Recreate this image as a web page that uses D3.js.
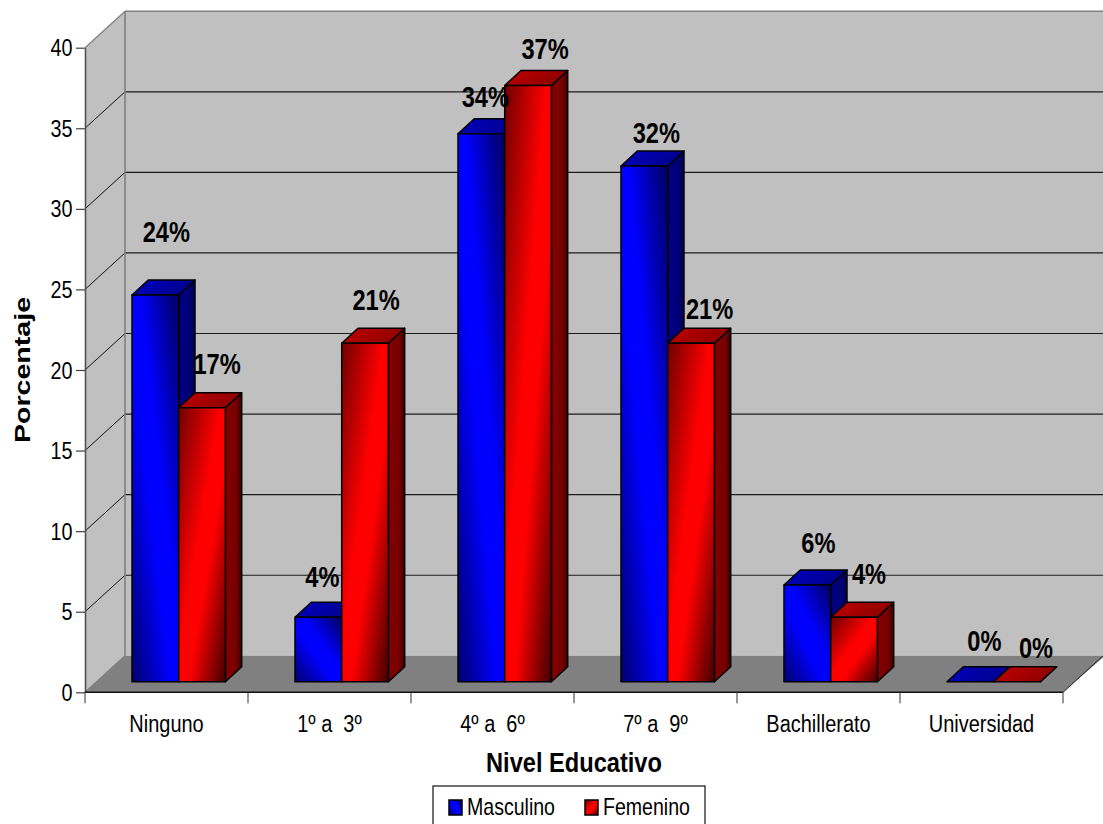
<!DOCTYPE html>
<html lang="es">
<head>
<meta charset="utf-8">
<title>Nivel educativo por sexo</title>
<script src="https://cdn.jsdelivr.net/npm/d3@7/dist/d3.min.js"></script>
<style>
  html, body { margin: 0; padding: 0; background: #fff; overflow: hidden; }
  svg { display: block; }
  text { font-family: "Liberation Sans", Arial, sans-serif; fill: #000; white-space: pre; }
</style>
</head>
<body>
<svg id="chart" width="1103" height="824"></svg>
<script>
// Chart data
const categories = ["Ninguno", "1º a  3º", "4º a  6º", "7º a  9º", "Bachillerato", "Universidad"];
const seriesNames = ["Masculino", "Femenino"];
const masculino = [24, 4, 34, 32, 6, 0];
const femenino = [17, 21, 37, 21, 4, 0];
const yTicks = [0, 5, 10, 15, 20, 25, 30, 35, 40];
const yTitle = "Porcentaje";
const xTitle = "Nivel Educativo";

// Hand-placed offsets of the value labels from the top centre of their bars
const labelShift = {
  Masculino: [[11, -53], [4, -30], [4, -26.6], [12, -23.5], [11, -32], [14, -31]],
  Femenino: [[15, -33.5], [11, -33], [17, -26], [18.5, -24], [15, -33], [19, -23.4]]
};

const W = 1103, H = 824;
const svg = d3.select("#chart");
const defs = svg.append("defs");

// Box geometry of the pseudo-3D plot
const wallDx = 40, wallDy = 36.5;   // wall depth
const barDx = 16.3, barDy = 15;     // bar depth
const frontDy = 10.6;               // bars stand this far behind the front edge
const barInset = 47, barW = 46.7;

const x = d3.scaleBand().domain(categories).range([85, 1063]).padding(0);
const xInner = d3.scaleBand().domain(seriesNames).range([barInset, barInset + 2 * barW]).padding(0);
const y = d3.scaleLinear().domain([0, 40]).range([692.3, 47.7]);

function gradient(id, x1, y1, x2, y2, stops) {
  const g = defs.append("linearGradient").attr("id", id)
    .attr("x1", x1).attr("y1", y1).attr("x2", x2).attr("y2", y2);
  stops.forEach(([o, c]) => g.append("stop").attr("offset", o).attr("stop-color", c));
}
gradient("face-Masculino", 0, 1, 1, 0, [[0, "#00006c"], [0.42, "#0000ff"], [0.58, "#0000ff"], [1, "#000060"]]);
gradient("face-Femenino", 0, 0, 1, 1, [[0, "#700000"], [0.45, "#ff0000"], [0.6, "#ff0000"], [1, "#400000"]]);
gradient("top-Masculino", 0, 0, 1, 0.3, [[0, "#0000c0"], [1, "#000090"]]);
gradient("top-Femenino", 0, 0, 1, 0.3, [[0, "#c00000"], [1, "#900000"]]);
gradient("side-Masculino", 0, 0, 1, 0, [[0, "#000084"], [0.65, "#000078"], [1, "#000048"]]);
gradient("side-Femenino", 0, 0, 1, 0, [[0, "#840000"], [0.65, "#780000"], [1, "#380000"]]);

const poly = pts => pts.map(p => p.join(",")).join(" ");

// Walls and floor
const x0 = x.range()[0], x1 = x.range()[1], yB = y(0), yT = y(40);
svg.append("polygon").attr("fill", "#c0c0c0")
  .attr("points", poly([[x0, yT], [x0 + wallDx, yT - wallDy], [W + 2, yT - wallDy], [W + 2, yB - wallDy], [x0 + wallDx, yB - wallDy], [x0, yB]]));
svg.append("polygon").attr("fill", "#808080")
  .attr("points", poly([[x0, yB], [x0 + wallDx, yB - wallDy], [W + 2, yB - wallDy], [x1, yB]]));

// Gridlines on the back wall and their continuation on the left wall
const grid = svg.append("g");
yTicks.filter(t => t > 0 && t < 40).forEach(t => {
  grid.append("line").attr("x1", x0 + wallDx).attr("x2", W)
    .attr("y1", y(t) - wallDy).attr("y2", y(t) - wallDy)
    .attr("stroke", "#1c1c1c").attr("stroke-width", 1.2);
  grid.append("line").attr("x1", x0).attr("x2", x0 + wallDx)
    .attr("y1", y(t)).attr("y2", y(t) - wallDy)
    .attr("stroke", "#111").attr("stroke-width", 1);
});

// Wall outlines
const edge = (a, b, c, d, col, w) => svg.append("line")
  .attr("x1", a).attr("y1", b).attr("x2", c).attr("y2", d)
  .attr("stroke", col).attr("stroke-width", w);
edge(x0 + wallDx, yT - wallDy, W, yT - wallDy, "#808080", 1.6);
edge(x0 + wallDx, yT - wallDy, x0 + wallDx, yB - wallDy, "#808080", 1.6);
edge(x0, yT, x0 + wallDx, yT - wallDy, "#808080", 1.2);
edge(x0, yB, x0 + wallDx, yB - wallDy, "#808080", 1.2);
edge(x1, yB, W, yB - wallDy, "#222", 1);

// Bars, drawn series by series inside each category so that red overlaps blue
const rows = categories.flatMap((c, i) => [
  { cat: c, i, name: seriesNames[0], value: masculino[i] },
  { cat: c, i, name: seriesNames[1], value: femenino[i] }
]);
const bars = svg.append("g").selectAll("g").data(rows).join("g");
const bl = d => x(d.cat) + xInner(d.name);
const topY = d => y(d.value) - frontDy;
const baseY = yB - frontDy;
const barStyle = sel => sel.attr("stroke", "#000").attr("stroke-width", 1.5).attr("stroke-linejoin", "round");

bars.append("polygon").call(barStyle)
  .attr("fill", d => `url(#side-${d.name})`)
  .attr("points", d => poly([[bl(d) + barW, topY(d)], [bl(d) + barW + barDx, topY(d) - barDy],
    [bl(d) + barW + barDx, baseY - barDy], [bl(d) + barW, baseY]]));
bars.append("polygon").call(barStyle)
  .attr("fill", d => `url(#top-${d.name})`)
  .attr("points", d => poly([[bl(d), topY(d)], [bl(d) + barDx, topY(d) - barDy],
    [bl(d) + barW + barDx, topY(d) - barDy], [bl(d) + barW, topY(d)]]));
bars.filter(d => d.value > 0).append("rect").call(barStyle)
  .attr("fill", d => `url(#face-${d.name})`)
  .attr("x", bl).attr("y", topY).attr("width", barW).attr("height", d => baseY - topY(d));

// Y axis
const yAxis = svg.append("g").attr("transform", `translate(${x0},0)`)
  .call(d3.axisLeft(y).tickValues(yTicks).tickSize(9).tickSizeOuter(0));
yAxis.select(".domain").attr("stroke", "#505050").attr("stroke-width", 1.6);
yAxis.selectAll(".tick line").attr("stroke", "#404040").attr("stroke-width", 1.2);
yAxis.selectAll(".tick text")
  .attr("x", 0).attr("dy", null)
  .attr("transform", "translate(-12.5,8) scale(0.86,1)")
  .style("font-size", "23px").style("font-family", "'Liberation Sans', Arial, sans-serif");

// X axis: category labels at band centres, tick marks at band edges
const xAxis = svg.append("g").attr("transform", `translate(0,${yB})`)
  .call(d3.axisBottom(x).tickSize(0).tickPadding(0));
xAxis.select(".domain").remove();
xAxis.selectAll(".tick text")
  .attr("y", 0).attr("dy", null)
  .attr("transform", "translate(0,40) scale(0.85,1)")
  .style("font-size", "23.5px").style("font-family", "'Liberation Sans', Arial, sans-serif");
edge(x0, yB, x1, yB, "#111", 1.4);
const edges = categories.map(c => x(c)).concat(x1);
svg.append("g").selectAll("line").data(edges).join("line")
  .attr("x1", d => d).attr("x2", d => d).attr("y1", yB).attr("y2", yB + 11)
  .attr("stroke", "#333").attr("stroke-width", 1);

// Value labels sit above everything else
svg.append("g").selectAll("text").data(rows).join("text")
  .attr("text-anchor", "middle")
  .attr("font-weight", "bold").attr("font-size", 29.5)
  .attr("transform", d => {
    const s = labelShift[d.name][d.i];
    return `translate(${bl(d) + barW / 2 + s[0]},${topY(d) + s[1]}) scale(0.8,1)`;
  })
  .text(d => d.value + "%");

// Axis titles
svg.append("text").attr("text-anchor", "middle")
  .attr("font-weight", "bold").attr("font-size", 27)
  .attr("transform", "translate(574,771.5) scale(0.875,1)")
  .text(xTitle);
svg.append("text").attr("text-anchor", "middle")
  .attr("font-weight", "bold").attr("font-size", 22)
  .attr("transform", "translate(30,370) rotate(-90) scale(1.3,1)")
  .text(yTitle);

// Legend
const legend = svg.append("g");
legend.append("rect").attr("x", 433).attr("y", 786).attr("width", 272).attr("height", 50)
  .attr("fill", "#fff").attr("stroke", "#111").attr("stroke-width", 1.2);
const legendX = d3.scalePoint().domain(seriesNames).range([449, 585]);
const item = legend.selectAll("g").data(seriesNames).join("g")
  .attr("transform", d => `translate(${legendX(d)},800)`);
item.append("rect").attr("width", 13).attr("height", 15)
  .attr("fill", d => `url(#face-${d})`).attr("stroke", "#000").attr("stroke-width", 1.5);
item.append("text").attr("transform", "translate(18,15) scale(0.85,1)")
  .attr("font-size", 23).text(d => d);
</script>
</body>
</html>
